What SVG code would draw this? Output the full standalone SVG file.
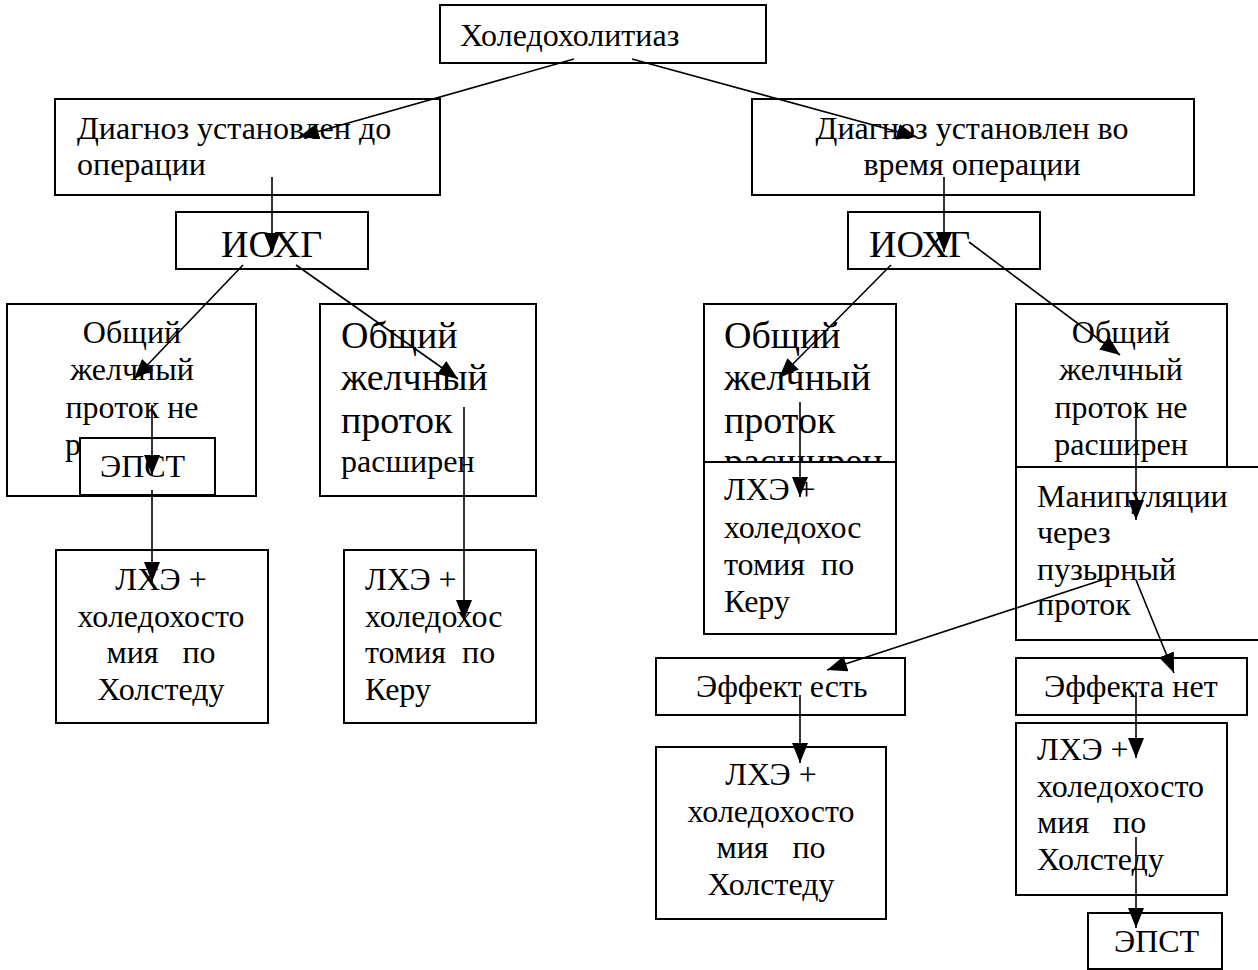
<svg xmlns="http://www.w3.org/2000/svg" width="1258" height="970" viewBox="0 0 1258 970">
<style>
.b{fill:#fff;stroke:#000;stroke-width:2}
.t{font-family:"Liberation Serif","Times New Roman",serif;font-size:32px;fill:#000}
.L{font-size:38px}
.m{text-anchor:middle}
.c line{stroke:#000;stroke-width:1.6;marker-end:url(#ah)}
</style>
<defs>
<marker id="ah" viewBox="0 0 20 16" refX="20" refY="8" markerWidth="20" markerHeight="16" orient="auto" markerUnits="userSpaceOnUse">
<path d="M0,0 L20,8 L0,16 Z" fill="#000"/>
</marker>
<clipPath id="clipR1"><rect x="704" y="304" width="192" height="158"/></clipPath>
</defs>
<rect width="1258" height="970" fill="#fff"/>
<g id="n-top"><rect class="b" x="440" y="5" width="326" height="58"/><text class="t" x="460" y="46">Холедохолитиаз</text></g>
<g id="n-diag-pre"><rect class="b" x="55" y="99" width="385" height="96"/><text class="t" x="77" y="139">Диагноз установлен до</text><text class="t" x="77" y="175">операции</text></g>
<g id="n-diag-intra"><rect class="b" x="752" y="99" width="442" height="96"/><text class="t m" x="972" y="139">Диагноз установлен во</text><text class="t m" x="972" y="175">время операции</text></g>
<g id="n-iohg-l"><rect class="b" x="176" y="212" width="192" height="57"/><text class="t L" x="221" y="257">ИОХГ</text></g>
<g id="n-iohg-r"><rect class="b" x="848" y="212" width="192" height="57"/><text class="t L" x="869" y="257">ИОХГ</text></g>
<g id="n-l1"><rect class="b" x="7" y="304" width="249" height="192"/><text class="t m" x="132" y="343">Общий</text><text class="t m" x="132" y="380">желчный</text><text class="t m" x="132" y="418">проток не</text><text class="t" x="65" y="455">р</text></g>
<g id="n-l-epst"><rect class="b" x="80" y="438" width="135" height="57"/><text class="t" x="100" y="477">ЭПСТ</text></g>
<g id="n-l2"><rect class="b" x="320" y="304" width="216" height="192"/><text class="t L" x="341" y="348">Общий</text><text class="t L" x="341" y="390">желчный</text><text class="t L" x="341" y="433">проток</text><text class="t" x="341" y="472">расширен</text></g>
<g id="n-l1-lhe"><rect class="b" x="56" y="550" width="212" height="173"/><text class="t m" x="161" y="590">ЛХЭ +</text><text class="t m" x="161" y="627">холедохосто</text><text class="t m" x="161" y="663" xml:space="preserve">мия   по</text><text class="t m" x="161" y="700">Холстеду</text></g>
<g id="n-l2-lhe"><rect class="b" x="344" y="550" width="192" height="173"/><text class="t" x="365" y="590">ЛХЭ +</text><text class="t" x="365" y="627">холедохос</text><text class="t" x="365" y="663" xml:space="preserve">томия  по</text><text class="t" x="365" y="700">Керу</text></g>
<g id="n-r1"><rect class="b" x="704" y="304" width="192" height="216"/><text class="t L" x="724" y="348">Общий</text><text class="t L" x="724" y="390">желчный</text><text class="t L" x="724" y="433">проток</text><text class="t L" x="724" y="474" clip-path="url(#clipR1)">расширен</text></g>
<g id="n-r1-lhe"><rect class="b" x="704" y="462" width="192" height="172"/><text class="t" x="724" y="500">ЛХЭ +</text><text class="t" x="724" y="538">холедохос</text><text class="t" x="724" y="575" xml:space="preserve">томия  по</text><text class="t" x="724" y="612">Керу</text></g>
<g id="n-r2"><rect class="b" x="1016" y="304" width="211" height="200"/><text class="t m" x="1121" y="343">Общий</text><text class="t m" x="1121" y="380">желчный</text><text class="t m" x="1121" y="418">проток не</text><text class="t m" x="1121" y="455">расширен</text></g>
<g id="n-manip"><rect class="b" x="1016" y="467" width="260" height="173"/><text class="t" x="1037" y="507">Манипуляции</text><text class="t" x="1037" y="543">через</text><text class="t" x="1037" y="580">пузырный</text><text class="t" x="1037" y="615">проток</text></g>
<g id="n-eff-yes"><rect class="b" x="656" y="658" width="249" height="57"/><text class="t" x="696" y="697">Эффект есть</text></g>
<g id="n-eff-no"><rect class="b" x="1016" y="658" width="231" height="57"/><text class="t" x="1044" y="697">Эффекта нет</text></g>
<g id="n-yes-lhe"><rect class="b" x="656" y="747" width="230" height="172"/><text class="t m" x="771" y="785">ЛХЭ +</text><text class="t m" x="771" y="822">холедохосто</text><text class="t m" x="771" y="858" xml:space="preserve">мия   по</text><text class="t m" x="771" y="895">Холстеду</text></g>
<g id="n-no-lhe"><rect class="b" x="1016" y="723" width="211" height="172"/><text class="t" x="1037" y="760">ЛХЭ +</text><text class="t" x="1037" y="797">холедохосто</text><text class="t" x="1037" y="833" xml:space="preserve">мия   по</text><text class="t" x="1037" y="870">Холстеду</text></g>
<g id="n-r-epst"><rect class="b" x="1088" y="913" width="134" height="56"/><text class="t" x="1114" y="952">ЭПСТ</text></g>
<g id="connectors" class="c">
<line x1="574" y1="59" x2="299" y2="137"/>
<line x1="632" y1="59" x2="917" y2="137"/>
<line x1="272" y1="177" x2="272" y2="253"/>
<line x1="944" y1="177" x2="944" y2="252"/>
<line x1="243" y1="265" x2="134" y2="379"/>
<line x1="296" y1="265" x2="458" y2="379"/>
<line x1="152" y1="405" x2="152" y2="475"/>
<line x1="152" y1="490" x2="152" y2="582"/>
<line x1="464" y1="407" x2="464" y2="620"/>
<line x1="891" y1="265" x2="779" y2="378"/>
<line x1="969" y1="242" x2="1120" y2="355"/>
<line x1="800" y1="402" x2="800" y2="497"/>
<line x1="1136" y1="402" x2="1136" y2="520"/>
<line x1="1108" y1="578" x2="827" y2="670"/>
<line x1="1136" y1="580" x2="1174" y2="673"/>
<line x1="800" y1="695" x2="800" y2="763"/>
<line x1="1136" y1="692" x2="1136" y2="758"/>
<line x1="1136" y1="837" x2="1136" y2="928"/>
</g>
</svg>
